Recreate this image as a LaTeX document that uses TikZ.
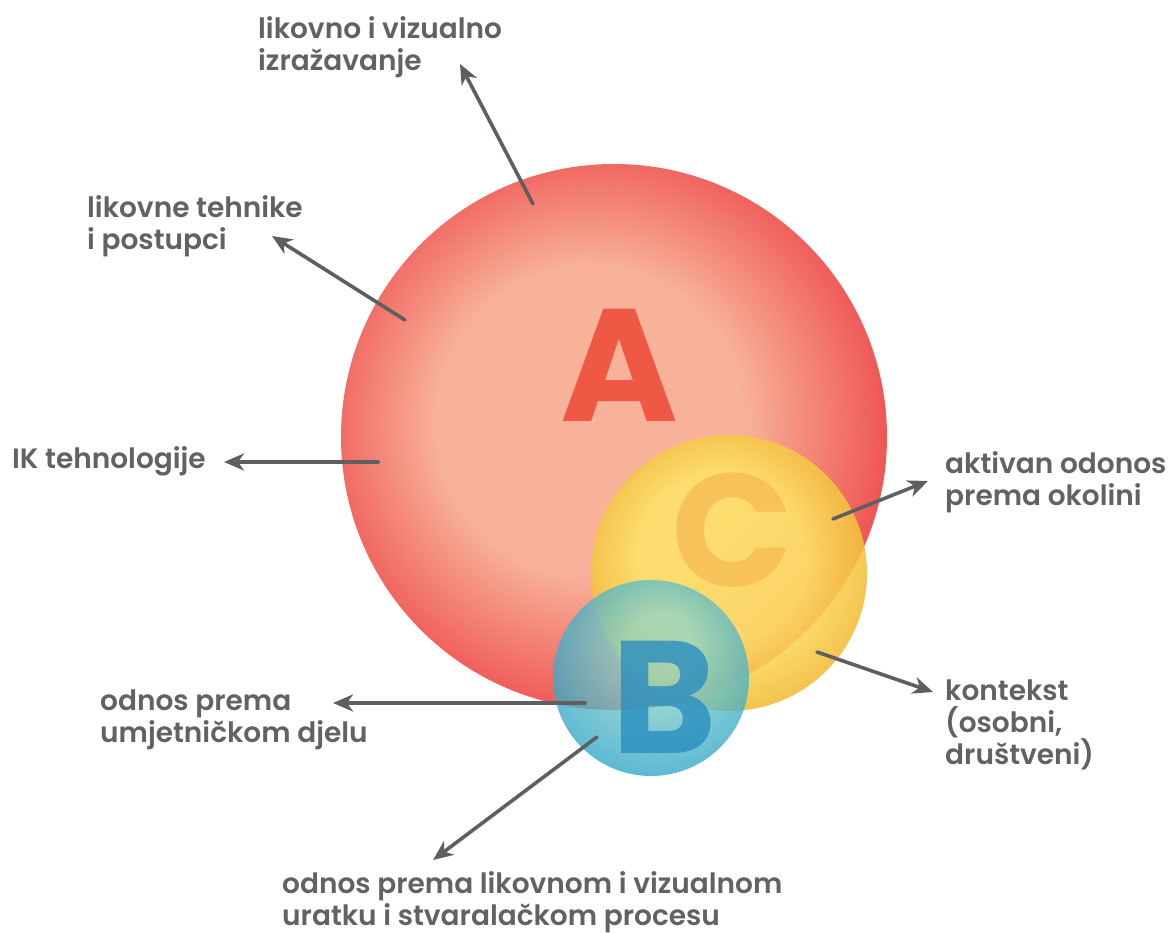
\documentclass[tikz,border=0pt]{standalone}
\usepackage{fontspec}
\setmainfont{Poppins}
\newfontfamily\lblfont{Poppins}[UprightFont={* SemiBold}]
\newfontfamily\bigfont{Poppins}[UprightFont={* Bold}]
\usetikzlibrary{arrows.meta}
\definecolor{txtgray}{HTML}{616264}
\definecolor{arrgray}{HTML}{5E5F61}
\definecolor{aIn}{HTML}{F8B29A}
\definecolor{aOut}{HTML}{EE4B4C}
\definecolor{cIn}{HTML}{FEE46A}
\definecolor{cOut}{HTML}{F0B42C}
\definecolor{bIn}{HTML}{92D6C6}
\definecolor{bOut}{HTML}{2CA4C8}
\definecolor{letA}{HTML}{F05846}
\definecolor{letC}{HTML}{F8BE58}
\definecolor{letB}{HTML}{2A8EBF}
\pgfdeclareradialshading{ballA}{\pgfpoint{-3bp}{2bp}}{color(0bp)=(aIn); color(14bp)=(aIn); color(28bp)=(aOut); color(50bp)=(aOut)}
\pgfdeclareradialshading{ballC}{\pgfpoint{-2bp}{4bp}}{color(0bp)=(cIn); color(15bp)=(cIn); color(29bp)=(cOut); color(50bp)=(cOut)}
\pgfdeclareradialshading{ballB}{\pgfpoint{3bp}{10bp}}{color(0bp)=(bIn); color(8bp)=(bIn); color(30bp)=(bOut); color(50bp)=(bOut)}
\tikzset{
  lbl/.style={anchor=north west, inner sep=0pt, align=left, text=txtgray,
    font=\lblfont\fontsize{28}{32}\selectfont},
  arr/.style={draw=arrgray, line width=3.6pt, line cap=round,
    -{Stealth[length=20pt,width=17pt,inset=6pt]}},
  ball/.style={circle, draw=none, inner sep=0pt, minimum size=#1},
  bigletter/.style={inner sep=0pt, font=\bigfont\fontsize{160}{160}\selectfont}
}

\begin{document}
\begin{tikzpicture}[x=1pt,y=-1pt]
  \useasboundingbox (0,0) rectangle (1168,933);

  % circles
  \node[ball=546pt, shading=ballA] (circA) at (614,437) {};
  \node[ball=276pt, shading=ballC, opacity=0.88] (circC) at (729,573) {};
  \node[ball=196pt, shading=ballB, opacity=0.78] (circB) at (651,678) {};

  % letters
  \node[bigletter, text=letA] (letterA) at (619,365) {A};
  \node[bigletter, text=letC, opacity=0.85] (letterC) at (732,530) {C};
  \node[bigletter, text=letB, opacity=0.8] (letterB) at (664,697) {B};

  % labels
  \node[lbl] (izraz) at (258,16) {likovno i vizualno\\izražavanje};
  \node[lbl] (tehnike) at (87,195) {likovne tehnike\\i postupci};
  \node[lbl] (ikt) at (12,446) {IK tehnologije};
  \node[lbl] (okolina) at (945,451) {aktivan odonos\\prema okolini};
  \node[lbl] (kontekst) at (945,680) {kontekst\\(osobni,\\društveni)};
  \node[lbl] (djelo) at (100,690) {odnos prema\\umjetničkom djelu};
  \node[lbl] (proces) at (282,871) {odnos prema likovnom i vizualnom\\uratku i stvaralačkom procesu};

  % arrow ends
  \coordinate (s1) at (533,204); \coordinate (t1) at (460,64);
  \coordinate (s2) at (405,320); \coordinate (t2) at (272,236);
  \coordinate (s3) at (378,462); \coordinate (t3) at (224,462);
  \coordinate (s4) at (833,519); \coordinate (t4) at (928,481);
  \coordinate (s5) at (817,652); \coordinate (t5) at (933,692);
  \coordinate (s6) at (585,703); \coordinate (t6) at (333,703);
  \coordinate (s7) at (597,737); \coordinate (t7) at (433,860);
  \foreach \i in {1,...,7} {
    \draw[arr] (s\i) -- (t\i);
  }
\end{tikzpicture}
\end{document}
